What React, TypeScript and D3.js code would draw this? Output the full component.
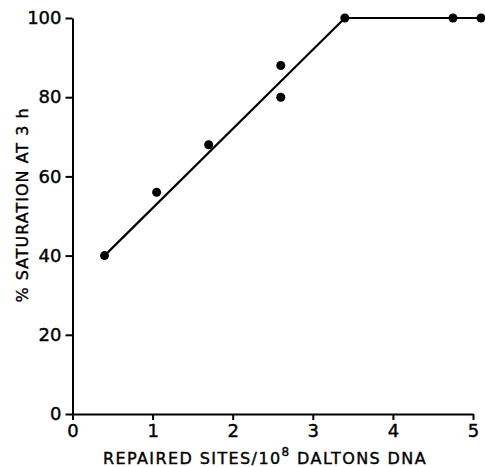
import React, { useEffect, useRef } from 'react';
import * as d3 from 'd3';

// data
const siteCounts = [0.4, 1.05, 1.7, 2.6, 2.6, 3.4, 4.75, 5.1];
const saturation = [40, 56, 68, 88, 80, 100, 100, 100];
// fitted line: rising segment then plateau
const fitX = [0.4, 3.4, 5.1];
const fitY = [40, 100, 100];
const xTicks = [0, 1, 2, 3, 4, 5];
const yTicks = [0, 20, 40, 60, 80, 100];

const W = 485;
const H = 467;
const FONT = '"DejaVu Sans", sans-serif';

export default function App() {
  const svgRef = useRef<SVGSVGElement | null>(null);

  useEffect(() => {
    document.body.style.margin = '0';
    if (!svgRef.current) return;
    const svg = d3.select(svgRef.current);
    svg.selectAll('*').remove();

    const x = d3.scaleLinear().domain([0, 5]).range([72.5, 473]);
    const y = d3.scaleLinear().domain([0, 100]).range([414, 18]);

    // axes
    const xAxis = svg.append('g')
      .attr('transform', `translate(0, ${y(0)})`)
      .call(d3.axisBottom(x).tickValues(xTicks).tickSize(6).tickSizeOuter(0).tickPadding(4).tickFormat(d3.format('d')));
    const yAxis = svg.append('g')
      .attr('transform', `translate(${x(0)}, 0)`)
      .call(d3.axisLeft(y).tickValues(yTicks).tickSize(7).tickSizeOuter(0).tickPadding(4).tickFormat(d3.format('d')));

    [xAxis, yAxis].forEach((g) => {
      g.select('.domain').attr('stroke', '#000').attr('stroke-width', 2);
      g.selectAll('.tick line').attr('stroke', '#000').attr('stroke-width', 2);
      g.selectAll('.tick text')
        .attr('fill', '#000')
        .attr('stroke', '#000')
        .attr('stroke-width', 0.4)
        .attr('font-family', FONT)
        .attr('font-size', 18);
    });

    // fitted line
    const line = d3.line<number>()
      .x((d, i) => x(fitX[i]))
      .y((d) => y(d));
    svg.append('path')
      .datum(fitY)
      .attr('fill', 'none')
      .attr('stroke', '#000')
      .attr('stroke-width', 2.2)
      .attr('d', line);

    // points
    svg.append('g')
      .selectAll('circle')
      .data(siteCounts)
      .enter()
      .append('circle')
      .attr('cx', (d) => x(d))
      .attr('cy', (d, i) => y(saturation[i]))
      .attr('r', 4.5)
      .attr('fill', '#000');

    // y title
    svg.append('text')
      .attr('transform', `translate(28, 205) rotate(-90)`)
      .attr('text-anchor', 'middle')
      .attr('font-family', FONT)
      .attr('font-size', 16)
      .attr('letter-spacing', 1)
      .attr('stroke', '#000')
      .attr('stroke-width', 0.4)
      .attr('fill', '#000')
      .text('% SATURATION AT 3 h');

    // x title with superscript
    const xt = svg.append('text')
      .attr('x', 265)
      .attr('y', 464)
      .attr('text-anchor', 'middle')
      .attr('font-family', FONT)
      .attr('font-size', 16)
      .attr('letter-spacing', 1.4)
      .attr('stroke', '#000')
      .attr('stroke-width', 0.4)
      .attr('fill', '#000');
    xt.append('tspan').text('REPAIRED SITES/10');
    xt.append('tspan').attr('dy', -8).attr('font-size', 12).text('8');
    xt.append('tspan').attr('dy', 8).text(' DALTONS DNA');
  }, []);

  return <svg ref={svgRef} width={W} height={H} style={{ display: 'block', background: '#fff' }} />;
}
